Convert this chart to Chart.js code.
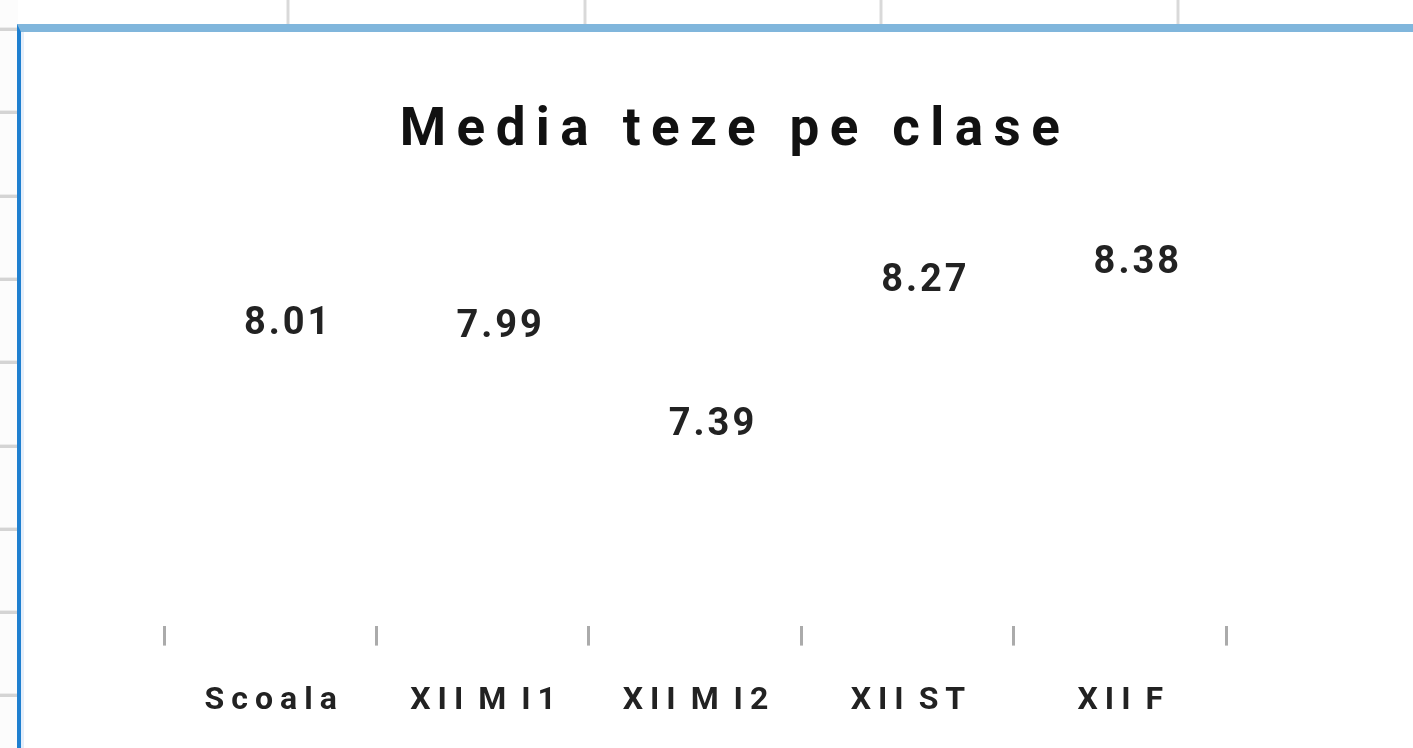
<!DOCTYPE html>
<html lang="ro">
<head>
    <meta charset="UTF-8">
    <title>Media teze pe clase</title>
    <script src="https://cdn.jsdelivr.net/npm/chart.js"></script>
    <style>
        body {
            margin: 0;
            width: 1413px;
            height: 748px;
            overflow: hidden;
            background-color: #fff;
            position: relative;
            font-family: 'Roboto', sans-serif;
        }
        /* foaia de calcul din spate */
        .rows {
            position: absolute;
            left: 0;
            top: 0;
            width: 18px;
            height: 748px;
            background-color: #fcfcfc;
            background-image: repeating-linear-gradient(to bottom,
                transparent 0px, transparent 27px,
                #ececec 27px, #ececec 28px,
                #d4d4d4 28px, #d4d4d4 31px,
                transparent 31px, transparent 83.3px);
        }
        .cols {
            position: absolute;
            left: 0;
            top: 0;
            width: 1413px;
            height: 24px;
            background-image: repeating-linear-gradient(to right,
                transparent 0px, transparent 286px,
                #ededed 286px, #ededed 287px,
                #d9d9d9 287px, #d9d9d9 289px,
                #ededed 289px, #ededed 290px,
                transparent 290px, transparent 296.7px);
        }
        .chart-box {
            position: absolute;
            left: 17px;
            top: 24px;
            width: 1440px;
            height: 770px;
            background-color: #fff;
            border-top: 8px solid #80b6dc;
            border-left: 4px solid #1f80d0;
            box-shadow: inset 3px 0 0 #e4eefa;
        }
        .chart-box canvas {
            position: absolute;
            left: 0;
            top: 0;
        }
    </style>
</head>
<body>
    <div class="rows"></div>
    <div class="cols"></div>
    <div class="chart-box">
        <canvas id="mediaChart" width="1418" height="760"></canvas>
    </div>

    <script>
        // date
        const titlu = 'Media teze pe clase';
        const clase = ['Scoala', 'XII M I1', 'XII M I2', 'XII ST', 'XII F'];
        const medii = [8.01, 7.99, 7.39, 8.27, 8.38];

        const textPlugin = {
            id: 'textPlugin',
            beforeDraw(chart) {
                // etichetele axei: litere rasfirate, spatii mai inguste
                chart.ctx.letterSpacing = '7px';
                chart.ctx.wordSpacing = '-7px';
            },
            afterDraw(chart) {
                const ctx = chart.ctx;
                ctx.save();
                ctx.wordSpacing = '0px';

                // titlul
                ctx.letterSpacing = '10.4px';
                ctx.font = 'bold 53px Roboto';
                ctx.fillStyle = '#111';
                ctx.textAlign = 'center';
                ctx.textBaseline = 'alphabetic';
                ctx.fillText(titlu, chart.width / 2 + 5, 113);

                // valorile deasupra barelor
                ctx.letterSpacing = '3px';
                ctx.font = 'bold 38px Roboto';
                ctx.fillStyle = '#222';
                const meta = chart.getDatasetMeta(0);
                meta.data.forEach((bar, i) => {
                    ctx.fillText(medii[i].toFixed(2), bar.x + 18, bar.y - 12);
                });

                ctx.restore();
                ctx.letterSpacing = '0px';
                ctx.wordSpacing = '0px';
            }
        };

        const ctx = document.getElementById('mediaChart').getContext('2d');
        const mediaChart = new Chart(ctx, {
            type: 'bar',
            data: {
                labels: clase,
                datasets: [{
                    label: titlu,
                    data: medii,
                    backgroundColor: 'rgba(0, 0, 0, 0)',
                    borderWidth: 0
                }]
            },
            options: {
                responsive: false,
                animation: false,
                layout: {
                    padding: { left: 143, right: 213, top: 217, bottom: 36 }
                },
                plugins: {
                    legend: { display: false },
                    title: { display: false },
                    tooltip: { enabled: false }
                },
                scales: {
                    x: {
                        border: { display: false },
                        grid: {
                            display: true,
                            drawOnChartArea: false,
                            drawTicks: true,
                            tickLength: 20,
                            tickWidth: 3,
                            tickColor: '#ababab',
                            offset: true
                        },
                        ticks: {
                            color: '#222',
                            padding: 36,
                            labelOffset: 4,
                            maxRotation: 0,
                            autoSkip: false,
                            font: { family: 'Roboto', size: 32, weight: 'bold' }
                        }
                    },
                    y: {
                        display: false,
                        min: 6.3,
                        max: 8.6
                    }
                }
            },
            plugins: [textPlugin]
        });
    </script>
</body>
</html>
